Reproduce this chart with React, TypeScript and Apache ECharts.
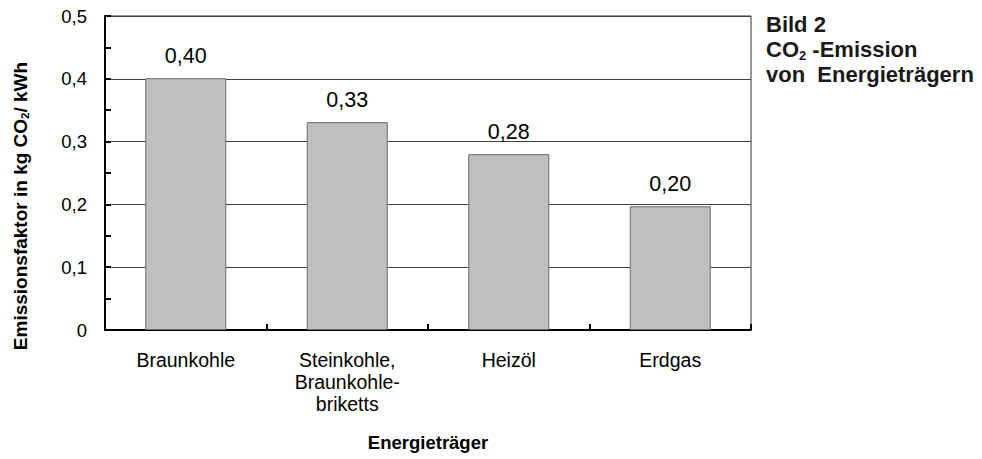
import React, { useEffect, useRef } from "react";
import * as echarts from "echarts";

const categories = ["Braunkohle", "Steinkohle,\nBraunkohle-\nbriketts", "Heizöl", "Erdgas"];
const values = [0.401, 0.331, 0.28, 0.197];
const yTicks = { min: 0, max: 0.5, interval: 0.1 };
const titleLines = ["Bild 2", "CO{s|2} -Emission", "von  Energieträgern"];
const yAxisName = "Emissionsfaktor in kg CO{s|2}/ kWh";
const xAxisName = "Energieträger";

const FONT = "'Liberation Sans', Arial, Helvetica, sans-serif";

export default function App() {
  const ref = useRef<HTMLDivElement>(null);
  useEffect(() => {
    if (!ref.current) return;
    const chart = echarts.init(ref.current, null, { renderer: "svg" });
    const fmt = (v: number, d: number) => v.toFixed(d).replace(".", ",");
    chart.setOption({
      animation: false,
      backgroundColor: "#ffffff",
      textStyle: { fontFamily: FONT },
      grid: {
        left: 105,
        right: 231,
        top: 16,
        bottom: 129,
        show: true,
        borderColor: "#333",
        borderWidth: 1,
        backgroundColor: "transparent",
      },
      xAxis: {
        type: "category",
        data: categories,
        axisLine: { show: true, lineStyle: { color: "#000", width: 2 } },
        axisTick: { show: true, inside: true, length: 6, alignWithLabel: false, lineStyle: { color: "#000", width: 2 } },
        axisLabel: {
          interval: 0,
          margin: 19,
          fontSize: 19.5,
          lineHeight: 22,
          color: "#000",
          fontFamily: FONT,
        },
        splitLine: { show: false },
      },
      yAxis: {
        type: "value",
        min: yTicks.min,
        max: yTicks.max,
        interval: yTicks.interval,
        axisLine: { show: true, lineStyle: { color: "#000", width: 2 } },
        axisTick: { show: true, inside: true, length: 6, lineStyle: { color: "#000", width: 2 } },
        minorTick: { show: true, splitNumber: 2, length: 6, lineStyle: { color: "#000", width: 2 } },
        axisLabel: {
          margin: 18,
          fontSize: 18.5,
          color: "#000",
          fontFamily: FONT,
          formatter: (v: number) => (v === 0 ? "0" : fmt(v, 1)),
        },
        splitLine: { show: true, lineStyle: { color: "#404040", width: 1 } },
      },
      series: [
        {
          type: "bar",
          data: values,
          barWidth: 81,
          itemStyle: { color: "#c0c0c0", borderColor: "#6a6a6a", borderWidth: 1 },
          label: {
            show: true,
            position: "top",
            distance: 11,
            fontSize: 21.5,
            color: "#000",
            fontFamily: FONT,
            formatter: (p: any) => fmt(p.value, 2),
          },
        },
      ],
      graphic: [
        {
          type: "text",
          x: 766,
          y: 12,
          style: {
            text: titleLines.join("\n"),
            fontSize: 22,
            fontWeight: "bold",
            lineHeight: 25,
            fill: "#1a1a1a",
            fontFamily: FONT,
            rich: {
              s: { fontSize: 13, fontWeight: "bold", verticalAlign: "bottom", lineHeight: 20, fill: "#1a1a1a", fontFamily: FONT },
            },
          },
        },
        {
          type: "text",
          x: 20,
          y: 206,
          rotation: Math.PI / 2,
          style: {
            text: yAxisName,
            fontSize: 19,
            fontWeight: "bold",
            lineHeight: 22,
            fill: "#000",
            align: "center",
            verticalAlign: "middle",
            fontFamily: FONT,
            rich: {
              s: { fontSize: 11.5, fontWeight: "bold", verticalAlign: "bottom", lineHeight: 14, fill: "#000", fontFamily: FONT },
            },
          },
        },
        {
          type: "text",
          x: 428,
          y: 442,
          style: {
            text: xAxisName,
            fontSize: 18.5,
            fontWeight: "bold",
            fill: "#000",
            align: "center",
            verticalAlign: "middle",
            fontFamily: FONT,
          },
        },
      ],
    });
    return () => chart.dispose();
  }, []);
  return <div ref={ref} style={{ width: 982, height: 459, position: "absolute", left: 0, top: 0 }} />;
}
